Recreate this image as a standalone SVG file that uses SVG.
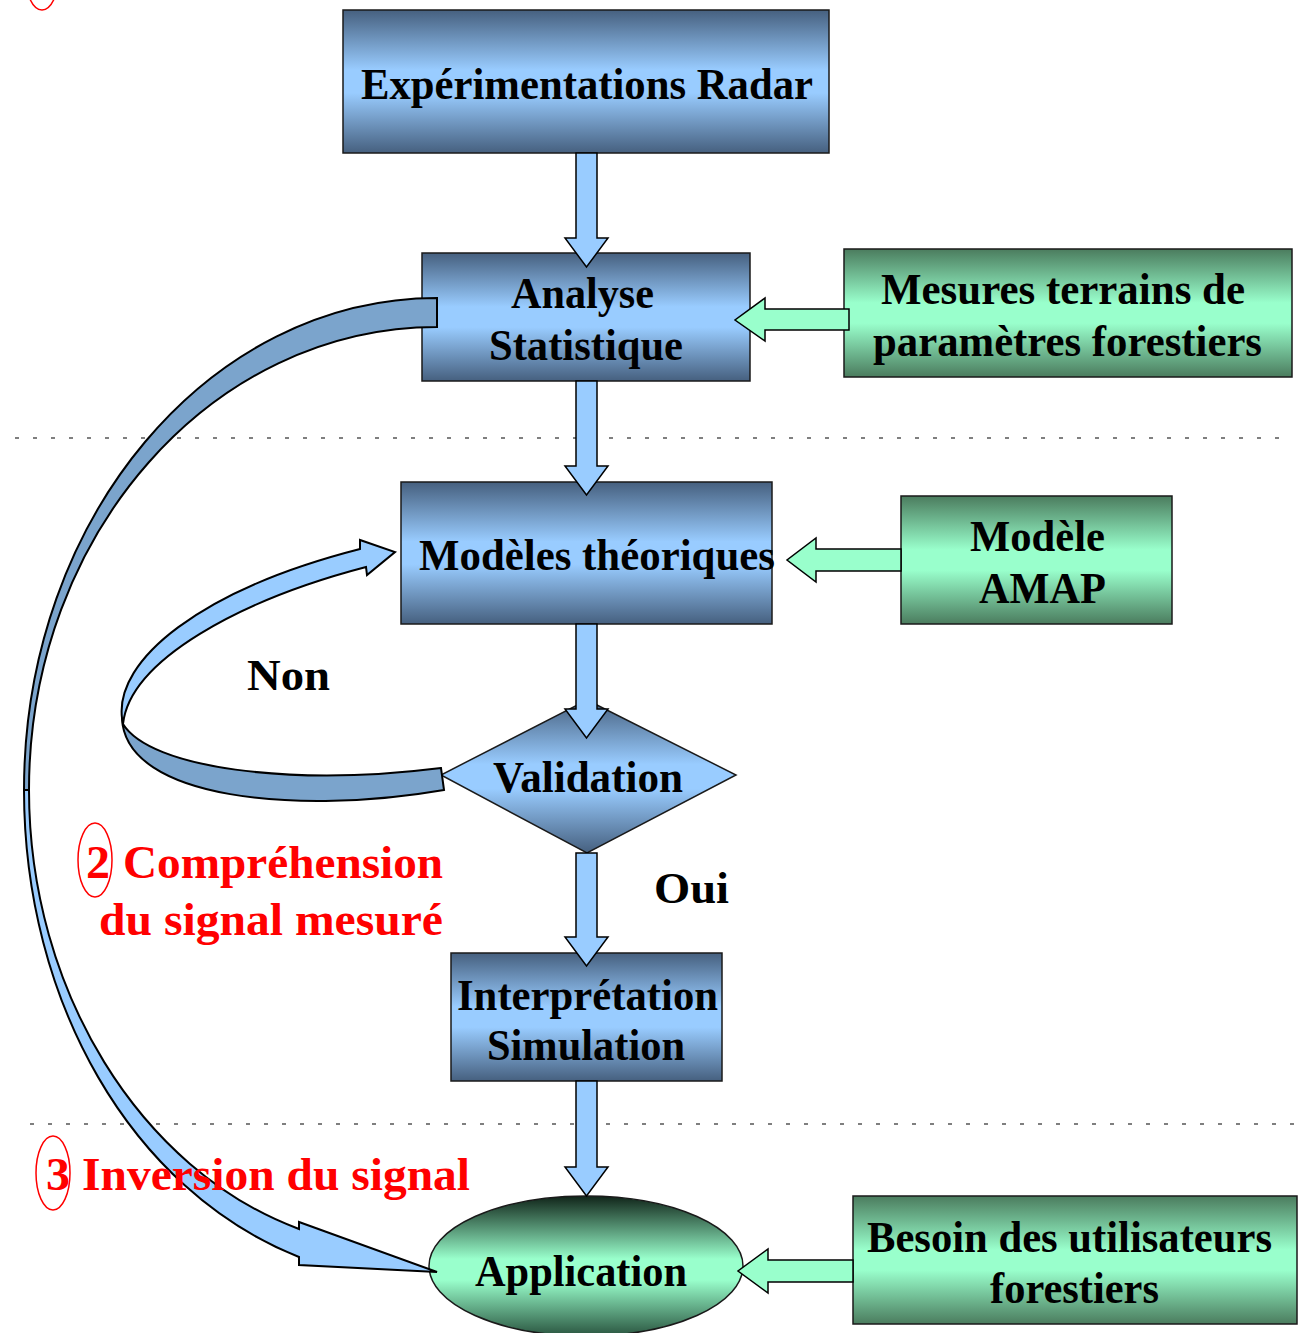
<svg xmlns="http://www.w3.org/2000/svg" width="1301" height="1333" viewBox="0 0 1301 1333">
<defs>
<linearGradient id="gBlue" x1="0" y1="0" x2="0" y2="1">
<stop offset="0" stop-color="#46607f"/><stop offset="0.42" stop-color="#99ccff"/><stop offset="0.58" stop-color="#99ccff"/><stop offset="1" stop-color="#46607f"/>
</linearGradient>
<linearGradient id="gGreen" x1="0" y1="0" x2="0" y2="1">
<stop offset="0" stop-color="#4b7c5e"/><stop offset="0.42" stop-color="#99ffcc"/><stop offset="0.58" stop-color="#99ffcc"/><stop offset="1" stop-color="#4b7c5e"/>
</linearGradient>
<linearGradient id="gEll" x1="0" y1="0" x2="0" y2="1">
<stop offset="0" stop-color="#102419"/><stop offset="0.45" stop-color="#99ffcc"/><stop offset="0.6" stop-color="#99ffcc"/><stop offset="1" stop-color="#2a5540"/>
</linearGradient>
<style>
.bx{stroke:#1a1a1a;stroke-width:1.5}
.t{font-family:"Liberation Serif","Times New Roman",serif;font-weight:bold;font-size:45px;fill:#000}
.r{font-family:"Liberation Serif","Times New Roman",serif;font-weight:bold;font-size:46px;fill:#ff0000}
.va{fill:#99ccff;stroke:#000;stroke-width:1.5;stroke-linejoin:miter}
.ga{fill:#99ffcc;stroke:#000;stroke-width:1.5}
.dk{fill:#7ba4cc;stroke:#000;stroke-width:2}
.lt{fill:#99ccff;stroke:#000;stroke-width:2}
.dot{stroke:#555;stroke-width:1.5;stroke-dasharray:4 14;fill:none}
.ring{fill:none;stroke:#ff0000;stroke-width:1.5}
</style>
</defs>
<rect width="1301" height="1333" fill="#fff"/>
<g id="separators">
<line class="dot" x1="15" y1="438" x2="1290" y2="438"/>
<line class="dot" x1="30" y1="1124" x2="1301" y2="1124"/>
</g>
<g id="n-experimentations">
<rect class="bx" x="343" y="10" width="486" height="143" fill="url(#gBlue)"/>
<text class="t" x="361" y="99" textLength="452" lengthAdjust="spacingAndGlyphs">Expérimentations Radar</text>
</g>
<g id="n-analyse">
<rect class="bx" x="422" y="253" width="328" height="128" fill="url(#gBlue)"/>
<text class="t" x="511" y="308" textLength="143" lengthAdjust="spacingAndGlyphs">Analyse</text>
<text class="t" x="489" y="360" textLength="194" lengthAdjust="spacingAndGlyphs">Statistique</text>
</g>
<g id="n-mesures">
<rect class="bx" x="844" y="249" width="448" height="128" fill="url(#gGreen)"/>
<text class="t" x="881" y="304" textLength="364" lengthAdjust="spacingAndGlyphs">Mesures terrains de</text>
<text class="t" x="873" y="356" textLength="389" lengthAdjust="spacingAndGlyphs">paramètres forestiers</text>
</g>
<g id="n-modeles">
<rect class="bx" x="401" y="482" width="371" height="142" fill="url(#gBlue)"/>
<text class="t" x="419" y="570" textLength="356" lengthAdjust="spacingAndGlyphs">Modèles théoriques</text>
</g>
<g id="n-amap">
<rect class="bx" x="901" y="496" width="271" height="128" fill="url(#gGreen)"/>
<text class="t" x="970" y="551" textLength="135" lengthAdjust="spacingAndGlyphs">Modèle</text>
<text class="t" x="979" y="603" textLength="127" lengthAdjust="spacingAndGlyphs">AMAP</text>
</g>
<g id="n-validation">
<polygon class="bx" points="587,700 736,775 587,853 441,775" fill="url(#gBlue)"/>
<text class="t" x="493" y="792" textLength="190" lengthAdjust="spacingAndGlyphs">Validation</text>
</g>
<g id="n-interpretation">
<rect class="bx" x="451" y="953" width="271" height="128" fill="url(#gBlue)"/>
<text class="t" x="457" y="1010" textLength="261" lengthAdjust="spacingAndGlyphs">Interprétation</text>
<text class="t" x="487" y="1060" textLength="198" lengthAdjust="spacingAndGlyphs">Simulation</text>
</g>
<g id="n-application">
<ellipse class="bx" cx="586" cy="1266" rx="157" ry="70" fill="url(#gEll)"/>
<text class="t" x="475" y="1286" textLength="212" lengthAdjust="spacingAndGlyphs">Application</text>
</g>
<g id="n-besoin">
<rect class="bx" x="853" y="1196" width="444" height="128" fill="url(#gGreen)"/>
<text class="t" x="867" y="1252" textLength="405" lengthAdjust="spacingAndGlyphs">Besoin des utilisateurs</text>
<text class="t" x="990" y="1303" textLength="169" lengthAdjust="spacingAndGlyphs">forestiers</text>
</g>
<g id="connectors">
<path class="va" d="M576,153 L597,153 L597,238 L608,238 L586.5,267 L565,238 L576,238 Z"/>
<path class="va" d="M576,381 L597,381 L597,466 L608,466 L586.5,495 L565,466 L576,466 Z"/>
<path class="va" d="M576,624 L597,624 L597,709 L608,709 L586.5,738 L565,709 L576,709 Z"/>
<path class="va" d="M576,853 L597,853 L597,937 L608,937 L586.5,966 L565,937 L576,937 Z"/>
<path class="va" d="M576,1081 L597,1081 L597,1167 L608,1167 L586.5,1196 L565,1167 L576,1167 Z"/>
<path class="ga" d="M849,309 L765,309 L765,298 L735,320 L765,341 L765,330 L849,330 Z"/>
<path class="ga" d="M901,549 L816,549 L816,538 L787,560 L816,582 L816,571 L901,571 Z"/>
<path class="ga" d="M853,1260 L768,1260 L768,1249 L738,1271 L768,1293 L768,1282 L853,1282 Z"/>
<path class="dk" d="M437,298 C209,298 24,518 24,790 L29,790 C29,534 212,327 437,327 Z"/>
<path class="lt" d="M24,790 C24,1000 130,1190 299,1257 L299,1265 L437,1272 L299,1222 L299,1229 C140,1170 29,990 29,790 Z"/>
<path class="dk" d="M122,718 C125,800 300,815 444,790 L441,768 C290,787 150,768 123,724 Z"/>
<path class="lt" d="M122,718 C115,660 200,590 360,549 L360,540 L395,552 L367,575 L366,567 C240,600 130,660 123,724 Z"/>
</g>
<g id="labels">
<text class="t" x="247" y="690" textLength="83" lengthAdjust="spacingAndGlyphs">Non</text>
<text class="t" x="654" y="903" textLength="75" lengthAdjust="spacingAndGlyphs">Oui</text>
<ellipse class="ring" cx="42" cy="-27" rx="17" ry="37"/>
<ellipse class="ring" cx="95" cy="860" rx="17" ry="37"/>
<text class="r" x="86" y="878" textLength="24" lengthAdjust="spacingAndGlyphs">2</text>
<text class="r" x="123" y="878" textLength="320" lengthAdjust="spacingAndGlyphs">Compréhension</text>
<text class="r" x="99" y="935" textLength="344" lengthAdjust="spacingAndGlyphs">du signal mesuré</text>
<ellipse class="ring" cx="53" cy="1173" rx="17" ry="37"/>
<text class="r" x="46" y="1190" textLength="24" lengthAdjust="spacingAndGlyphs">3</text>
<text class="r" x="82" y="1190" textLength="388" lengthAdjust="spacingAndGlyphs">Inversion du signal</text>
</g>
</svg>
